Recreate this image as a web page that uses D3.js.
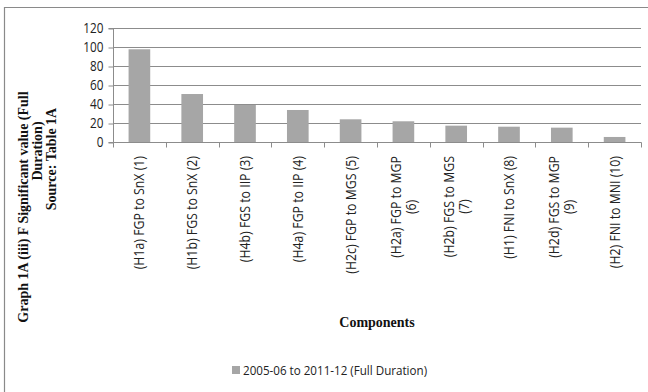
<!DOCTYPE html>
<html>
<head>
<meta charset="utf-8">
<script src="https://cdn.jsdelivr.net/npm/d3@7"></script>
<style>
  html, body { margin: 0; padding: 0; background: #fff; }
  svg { display: block; }
</style>
</head>
<body>
<svg id="chart" width="648" height="392"></svg>
<script>
// Component labels (a "\n" marks a wrapped second line)
const categories = [
  "(H1a) FGP to SnX (1)",
  "(H1b) FGS to SnX (2)",
  "(H4b) FGS to IIP (3)",
  "(H4a) FGP to IIP (4)",
  "(H2c) FGP to MGS (5)",
  "(H2a) FGP to MGP\n(6)",
  "(H2b) FGS to MGS\n(7)",
  "(H1) FNI to SnX (8)",
  "(H2d) FGS to MGP\n(9)",
  "(H2) FNI to MNI (10)"
];
// F significant value, full duration
const fullDuration = [97.6, 50.5, 39.0, 33.7, 23.9, 21.8, 17.2, 16.1, 15.1, 5.3];
const yTicks = [0, 20, 40, 60, 80, 100, 120];
const seriesName = "2005-06 to 2011-12 (Full Duration)";
const yTitleLines = ["Graph 1A (iii) F Significant value (Full", "Duration)", "Source: Table 1A"];
const xTitle = "Components";

const svg = d3.select("#chart");
const plot = { left: 113, right: 641, top: 28, bottom: 142 };
const sans = "'Open Sans', 'Noto Sans', sans-serif";
const serif = "'Liberation Serif', 'Times New Roman', serif";
const barColor = "#a6a6a6";
const gridColor = "#8c8c8c";

// squeeze a text run horizontally so it reads like a narrow face
function condense(sel, factor) {
  sel.each(function () {
    const w = this.getComputedTextLength();
    d3.select(this).attr("textLength", w * factor).attr("lengthAdjust", "spacingAndGlyphs");
  });
}

// outer chart frame
svg.append("path")
  .attr("d", "M4.5,392 L4.5,7.5 L648,7.5")
  .attr("fill", "none").attr("stroke", "#8a8a8a").attr("stroke-width", 1.2);

const x = d3.scaleBand().domain(categories).range([plot.left, plot.right]).paddingInner(0.59).paddingOuter(0.295);
const xEdge = d3.scaleLinear().domain([0, categories.length]).range([plot.left, plot.right]);
const y = d3.scaleLinear().domain([0, 120]).range([plot.bottom, plot.top]);

// horizontal gridlines
svg.append("g").selectAll("line").data(yTicks.filter(d => d > 0)).join("line")
  .attr("x1", plot.left).attr("x2", plot.right)
  .attr("y1", d => Math.round(y(d)) + 0.5).attr("y2", d => Math.round(y(d)) + 0.5)
  .attr("stroke", gridColor).attr("stroke-width", 1);

// bars
svg.append("g").selectAll("rect").data(fullDuration).join("rect")
  .attr("x", (d, i) => x(categories[i]))
  .attr("width", x.bandwidth())
  .attr("y", d => y(d))
  .attr("height", d => y(0) - y(d))
  .attr("fill", barColor);

// y axis
const yAxis = d3.axisLeft(y).tickValues(yTicks).tickSize(5).tickPadding(5);
const gy = svg.append("g").attr("transform", `translate(${plot.left + 0.5},0.5)`).call(yAxis);
gy.select(".domain").attr("stroke", gridColor).attr("d", `M-5,${Math.round(plot.top)}H0V${Math.round(plot.bottom)}H-5`);
gy.selectAll(".tick line").attr("stroke", gridColor);
gy.selectAll(".tick text").attr("font-family", sans).attr("font-size", 14).attr("fill", "#222")
  .call(condense, 0.84);

// x axis line with ticks at category boundaries
const gx = svg.append("g").attr("transform", `translate(0.5,${Math.round(plot.bottom) + 0.5})`);
gx.append("line").attr("x1", plot.left).attr("x2", plot.right).attr("stroke", gridColor);
gx.selectAll(".edge").data(d3.range(categories.length + 1)).join("line")
  .attr("class", "edge")
  .attr("x1", d => Math.round(xEdge(d))).attr("x2", d => Math.round(xEdge(d)))
  .attr("y1", 0).attr("y2", 5).attr("stroke", gridColor);

// rotated category labels, lines centred on the longest line
const labelTop = plot.bottom + 14;
const lineGap = 15;
categories.forEach((c, i) => {
  const lines = c.split("\n");
  const cx = x(c) + x.bandwidth() / 2;
  const g = svg.append("g").attr("transform", `translate(${cx},${labelTop}) rotate(-90)`);
  const texts = lines.map((ln, k) => g.append("text")
    .attr("font-family", sans).attr("font-size", 14).attr("fill", "#222")
    .attr("dy", "0.35em")
    .attr("y", (k - (lines.length - 1) / 2) * lineGap)
    .text(ln));
  texts.forEach(t => condense(t, 0.88));
  const widths = texts.map(t => +t.attr("textLength"));
  const maxW = Math.max(...widths);
  texts.forEach((t, k) => t.attr("x", -maxW + (maxW - widths[k]) / 2));
});

// y axis title
const yTitlePos = [[23, 207], [37, 151], [51, 159]];
yTitleLines.forEach((ln, k) => {
  svg.append("text")
    .attr("transform", `translate(${yTitlePos[k][0]},${yTitlePos[k][1]}) rotate(-90)`)
    .attr("text-anchor", "middle").attr("dy", "0.35em")
    .attr("font-family", serif).attr("font-weight", "bold").attr("font-size", 14)
    .attr("fill", "#111").text(ln);
});

// x axis title
svg.append("text").attr("x", 377).attr("y", 322).attr("dy", "0.35em")
  .attr("text-anchor", "middle")
  .attr("font-family", serif).attr("font-weight", "bold").attr("font-size", 14)
  .attr("fill", "#111").text(xTitle);

// legend
const lg = svg.append("g").attr("transform", "translate(232,370)");
lg.append("rect").attr("x", 0).attr("y", -4).attr("width", 8).attr("height", 8).attr("fill", barColor);
lg.append("text").attr("x", 11).attr("dy", "0.35em")
  .attr("font-family", sans).attr("font-size", 13.5).attr("fill", "#222").text(seriesName)
  .call(condense, 0.86);
</script>
</body>
</html>
